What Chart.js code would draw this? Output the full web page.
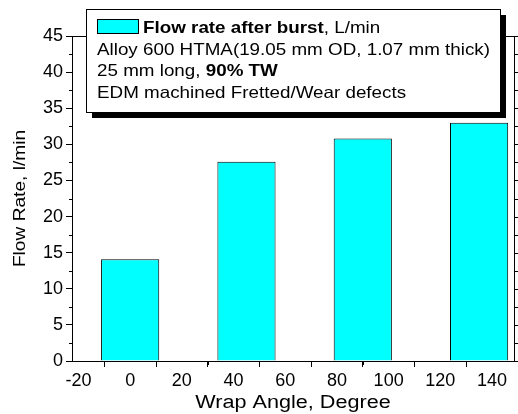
<!DOCTYPE html>
<html>
<head>
<meta charset="utf-8">
<script src="https://cdn.jsdelivr.net/npm/chart.js@4"></script>
<style>body{margin:0;background:#fff}</style>
</head>
<body>
<canvas id="chart" width="518" height="414"></canvas>
<script>
// data
const wrapAngles = [0, 45, 90, 135];
const flowRates = [14.1, 27.6, 30.8, 33.0];
const xTickValues = [-20, 0, 20, 40, 60, 80, 100, 120, 140];
const yTickValues = [0, 5, 10, 15, 20, 25, 30, 35, 40, 45];
const xTitle = 'Wrap Angle, Degree';
const yTitle = 'Flow Rate, l/min';
// legend text, as [text, bold] runs per line
const legendLines = [
    [['Flow rate after burst', true], [', L/min', false]],
    [['Alloy 600 HTMA(19.05 mm OD, 1.07 mm thick)', false]],
    [['25 mm long, ', false], ['90% TW', true]],
    [['EDM machined Fretted/Wear defects', false]]
];

const FONT = "'Liberation Sans', Arial, sans-serif";

// the source text is a bit wide for its height, so stretch it sideways
function stretchedText(ctx, text, x, y, size, bold, sx) {
    ctx.font = (bold ? 'bold ' : '') + size + 'px ' + FONT;
    const w = ctx.measureText(text).width * sx;
    ctx.save();
    ctx.translate(x, y);
    ctx.scale(sx, 1);
    ctx.fillText(text, 0, 0);
    ctx.restore();
    return w;
}

// top/right frame, minor ticks, axis titles
const framePlugin = {
    id: 'frame',
    afterDraw(chart) {
        const { ctx, chartArea: a, scales } = chart;
        const x = scales.x, y = scales.y;
        ctx.save();
        ctx.strokeStyle = '#000';
        ctx.lineWidth = 1;
        ctx.beginPath();
        ctx.moveTo(a.left, a.top + 0.5);
        ctx.lineTo(a.right + 0.5, a.top + 0.5);
        ctx.lineTo(a.right + 0.5, a.bottom);
        for (let i = 0; i < yTickValues.length - 1; i++) {
            const py = Math.round(y.getPixelForValue((yTickValues[i] + yTickValues[i + 1]) / 2)) + 0.5;
            ctx.moveTo(a.left - 3, py);
            ctx.lineTo(a.left, py);
        }
        for (let i = 0; i < xTickValues.length - 1; i++) {
            const px = Math.round(x.getPixelForValue((xTickValues[i] + xTickValues[i + 1]) / 2)) + 0.5;
            ctx.moveTo(px, a.bottom);
            ctx.lineTo(px, a.bottom + 4);
        }
        for (let i = 0; i < yTickValues.length; i++) {
            const v = yTickValues[i];
            [v, v + 2.5].forEach(t => {
                if (t > y.max) return;
                const py = Math.round(y.getPixelForValue(t)) + 0.5;
                ctx.moveTo(a.right, py);
                ctx.lineTo(a.right + 6, py);
            });
        }
        ctx.stroke();

        ctx.fillStyle = '#000';
        ctx.textBaseline = 'alphabetic';
        ctx.font = '18px ' + FONT;
        const xw = ctx.measureText(xTitle).width * 1.2;
        stretchedText(ctx, xTitle, (a.left + a.right) / 2 - xw / 2, 408, 18, false, 1.2);
        ctx.save();
        ctx.translate(25, (a.top + a.bottom) / 2);
        ctx.rotate(-Math.PI / 2);
        ctx.font = '16.5px ' + FONT;
        const yw = ctx.measureText(yTitle).width * 1.16;
        stretchedText(ctx, yTitle, -yw / 2, 0, 16.5, false, 1.16);
        ctx.restore();
        ctx.restore();
    }
};

// boxed legend with drop shadow
const legendPlugin = {
    id: 'boxLegend',
    afterDraw(chart) {
        const ctx = chart.ctx;
        const bx = 86, by = 9, bw = 414, bh = 103;
        ctx.save();
        ctx.fillStyle = '#000';
        ctx.fillRect(bx + 6, by + 6, bw, bh);
        ctx.fillStyle = '#fff';
        ctx.fillRect(bx, by, bw, bh);
        ctx.strokeStyle = '#000';
        ctx.lineWidth = 1;
        ctx.strokeRect(bx + 0.5, by + 0.5, bw, bh);

        const ds = chart.data.datasets[0];
        ctx.fillStyle = ds.backgroundColor;
        ctx.fillRect(97, 19, 41, 14);
        ctx.strokeRect(97.5, 19.5, 41, 14);

        ctx.fillStyle = '#000';
        const baselines = [33, 55, 76, 98];
        legendLines.forEach((runs, i) => {
            let tx = i === 0 ? 143 : 97;
            runs.forEach(([text, bold]) => {
                tx += stretchedText(ctx, text, tx, baselines[i], 16.5, bold, 1.14);
            });
        });
        ctx.restore();
    }
};

const tickFont = { family: FONT, size: 18 };

new Chart(document.getElementById('chart'), {
    type: 'bar',
    data: {
        datasets: [{
            label: 'Flow rate after burst, L/min',
            data: wrapAngles.map((a, i) => ({ x: a, y: flowRates[i] })),
            backgroundColor: '#00ffff',
            borderColor: '#000',
            borderWidth: 1,
            barPercentage: 1.125,
            categoryPercentage: 1
        }]
    },
    options: {
        responsive: false,
        animation: false,
        devicePixelRatio: 1,
        layout: { padding: { top: 36, right: 4, left: 0, bottom: 0 } },
        plugins: { legend: { display: false }, tooltip: { enabled: false } },
        scales: {
            x: {
                type: 'linear',
                min: -22.5,
                max: 148.5,
                offset: false,
                afterBuildTicks: s => { s.ticks = xTickValues.map(v => ({ value: v })); },
                afterFit: s => { s.height = 53; },
                grid: { drawOnChartArea: false, drawTicks: true, tickLength: 6, color: '#000' },
                border: { display: true, color: '#000', width: 1 },
                ticks: { color: '#000', font: tickFont, padding: 3, maxRotation: 0 }
            },
            y: {
                min: 0,
                max: 45,
                afterBuildTicks: s => { s.ticks = yTickValues.map(v => ({ value: v })); },
                afterFit: s => { s.width = 72; },
                grid: { drawOnChartArea: false, drawTicks: true, tickLength: 6, color: '#000' },
                border: { display: true, color: '#000', width: 1 },
                ticks: { color: '#000', font: tickFont, padding: 3 }
            }
        }
    },
    plugins: [framePlugin, legendPlugin]
});
</script>
</body>
</html>
